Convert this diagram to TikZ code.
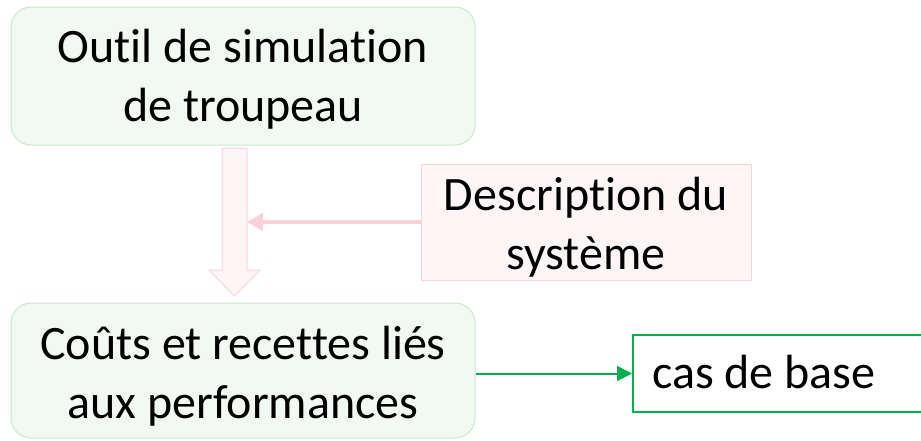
\documentclass[tikz,border=0pt]{standalone}
\usepackage{fontspec}
\setmainfont{Carlito}[RawFeature={-liga;-clig}]
\usetikzlibrary{arrows.meta}
\definecolor{gfill}{HTML}{F2F9F2}
\definecolor{gline}{HTML}{C6EBC9}
\definecolor{pfill}{HTML}{FFF5F6}
\definecolor{pline}{HTML}{F8D3D7}
\definecolor{parrow}{HTML}{F8D0D5}
\definecolor{garrow}{HTML}{00B050}
\tikzset{
  gbox/.style={draw=gline, fill=gfill, line width=1pt, rounded corners=20pt, align=center, inner sep=0pt},
  pbox/.style={draw=pline, fill=pfill, line width=1pt, align=center, inner sep=0pt},
  cbox/.style={draw=garrow, line width=2pt, inner sep=0pt},
  txt/.style={font=\fontsize{48}{59}\selectfont, inner sep=0pt},
}
\begin{document}
\begin{tikzpicture}[x=1pt,y=-1pt]
\useasboundingbox (0,0) rectangle (921,440);
\begin{scope}
\clip (0,0) rectangle (921,440);
% boxes
\node[gbox, minimum width=464pt, minimum height=138pt] (top) at (243,76) {};
\node[txt, align=center] (toptxt) at (243,79) {Outil de simulation\\de troupeau};
\node[gbox, minimum width=464pt, minimum height=135pt] (bot) at (243,370.5) {};
\node[txt, align=center] (bottxt) at (243,376) {Coûts et recettes liés\\aux performances};
\node[pbox, minimum width=330pt, minimum height=116pt] (desc) at (586,222) {};
\node[txt, align=center] (desctxt) at (586,227) {Description du\\système};
\node[cbox, minimum width=340pt, minimum height=77pt, anchor=north west] (cas) at (632,334) {};
\node[txt, anchor=base west] (castxt) at (652,388) {cas de base};
% block arrow
\draw[draw=pline, fill=pfill, line width=1pt] (222,148) -- (247,148) -- (247,270) -- (260,270) -- (234.5,296) -- (209,270) -- (222,270) -- cycle;
\coordinate (shaftR) at (247,222);
\end{scope}
% connectors
\draw[draw=parrow, line width=4pt, -{Triangle[length=16pt,width=17pt]}] (desc.west) -- (shaftR);
\draw[draw=garrow, fill=garrow, line width=2pt, -{Triangle[length=15pt,width=15pt]}] (bot.east |- cas.west) -- (cas.west);
\end{tikzpicture}
\end{document}
